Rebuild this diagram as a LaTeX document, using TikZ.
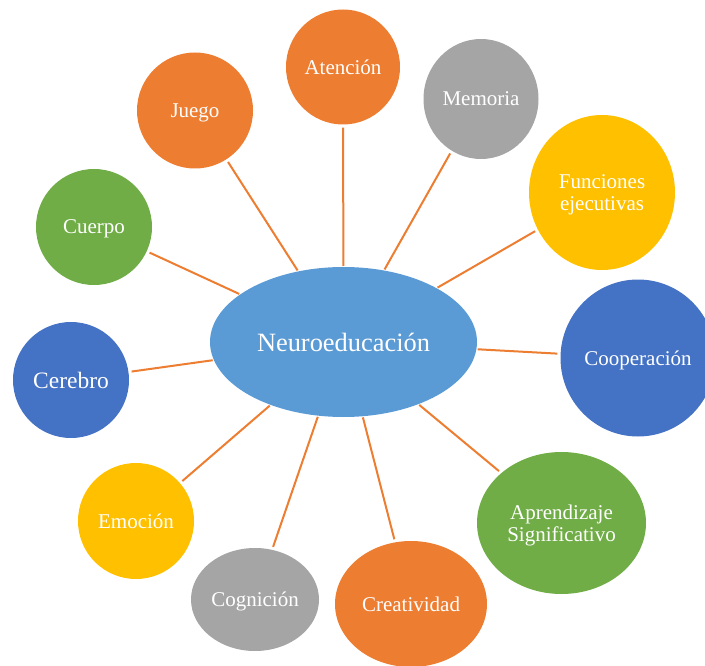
\documentclass[tikz,border=0pt]{standalone}
\usepackage{fontspec}
\setmainfont{Liberation Serif}
\usetikzlibrary{shapes.geometric}
\definecolor{cOrange}{HTML}{ED7D31}
\definecolor{cGray}{HTML}{A5A5A5}
\definecolor{cYellow}{HTML}{FFC000}
\definecolor{cBlue}{HTML}{4472C4}
\definecolor{cGreen}{HTML}{70AD47}
\definecolor{cLight}{HTML}{5B9BD5}
\tikzset{
  bubble/.style={ellipse, inner sep=0pt, text=white, align=center, text depth=0pt,
    font=\fontsize{21}{22}\selectfont},
  conn/.style={draw=cOrange, line width=2pt, shorten >=3pt, shorten <=1pt}
}
\begin{document}
\begin{tikzpicture}[x=1pt,y=-1pt]
\useasboundingbox (0,0) rectangle (705,666);
\node[ellipse, fill=cLight, minimum width=267, minimum height=150, inner sep=0pt,
  text=white, font=\fontsize{26.4}{28}\selectfont] (neuro) at (343.5,342) {Neuroeducación};
\node[bubble, fill=cOrange, minimum width=114, minimum height=115] (atencion) at (343,67) {Atención};
\node[bubble, fill=cGray, minimum width=115, minimum height=120] (memoria) at (481,99) {Memoria};
\node[bubble, fill=cYellow, minimum width=146, minimum height=155] (funciones) at (602,192.5) {Funciones\\ejecutivas};
\node[bubble, fill=cBlue, minimum width=155, minimum height=157] (cooperacion) at (638,358) {Cooperación};
\node[bubble, fill=cGreen, minimum width=169, minimum height=142] (aprendizaje) at (561.5,523) {Aprendizaje\\Significativo};
\node[bubble, fill=cOrange, minimum width=152, minimum height=126] (creatividad) at (411,604) {Creatividad};
\node[bubble, fill=cGray, minimum width=128, minimum height=103] (cognicion) at (255,599.5) {Cognición};
\node[bubble, fill=cYellow, minimum width=116, minimum height=116] (emocion) at (136,521) {Emoción};
\node[bubble, fill=cBlue, minimum width=116, minimum height=116, font=\fontsize{23.5}{24}\selectfont] (cerebro) at (71,380) {Cerebro};
\node[bubble, fill=cGreen, minimum width=116, minimum height=116] (cuerpo) at (94,227) {Cuerpo};
\node[bubble, fill=cOrange, minimum width=116, minimum height=116] (juego) at (195,110.5) {Juego};
\foreach \t in {atencion,memoria,funciones,cooperacion,aprendizaje,creatividad,cognicion,emocion,cerebro,cuerpo,juego}
  \draw[conn] (neuro) -- (\t);
\end{tikzpicture}
\end{document}
